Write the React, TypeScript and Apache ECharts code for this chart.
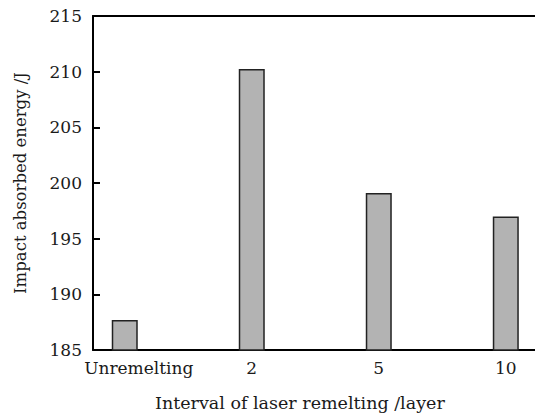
import React, { useEffect, useRef } from "react";
import * as echarts from "echarts";

// Impact absorbed energy for each laser remelting interval
const categories = ["Unremelting", "2", "5", "10"];
const energy = [187.7, 210.25, 199.1, 197.0];
const yTicks = { min: 185, max: 215, interval: 5 };

const FONT = "DejaVu Serif";
const INK = "#1a1a1a";

export default function App() {
  const ref = useRef<HTMLDivElement>(null);

  useEffect(() => {
    if (!ref.current) return;
    const chart = echarts.init(ref.current, undefined, { renderer: "svg" });
    chart.setOption({
      animation: false,
      backgroundColor: "#ffffff",
      grid: {
        left: 93,
        top: 16,
        right: 0,
        height: 334,
      },
      xAxis: [
        {
          type: "value",
          min: -0.25,
          max: 3.23,
          interval: 0.25,
          splitLine: { show: false },
          axisTick: { show: false },
          axisLine: { show: true, onZero: false, lineStyle: { color: "#000", width: 2 } },
          axisLabel: {
            margin: 9,
            fontFamily: FONT,
            fontSize: 17,
            color: INK,
            showMinLabel: true,
            showMaxLabel: false,
            formatter: (v: number) => {
              if (Math.abs(v - Math.round(v)) > 1e-6) return "";
              const i = Math.round(v);
              if (i < 0 || i >= categories.length) return "";
              return i === 0 ? `{u|${categories[i]}}` : categories[i];
            },
            rich: {
              u: {
                fontFamily: FONT,
                fontSize: 17,
                color: INK,
                padding: [0, 0, 0, 28],
              },
            },
          },
        },
        {
          // top frame line
          type: "value",
          position: "top",
          min: -0.25,
          max: 3.23,
          interval: 0.25,
          splitLine: { show: false },
          axisTick: { show: false },
          axisLabel: { show: false },
          axisLine: { show: true, onZero: false, lineStyle: { color: "#000", width: 2 } },
        },
      ],
      yAxis: {
        type: "value",
        min: yTicks.min,
        max: yTicks.max,
        interval: yTicks.interval,
        name: "Impact absorbed energy /J",
        nameLocation: "middle",
        nameGap: 64,
        nameTextStyle: { fontFamily: FONT, fontSize: 16.5, color: INK },
        splitLine: { show: false },
        axisLine: { show: true, onZero: false, lineStyle: { color: "#000", width: 2 } },
        axisTick: {
          show: true,
          inside: true,
          length: 7,
          lineStyle: { color: "#000", width: 2 },
        },
        axisLabel: {
          margin: 11,
          fontFamily: FONT,
          fontSize: 17,
          color: INK,
        },
      },
      series: [
        {
          type: "bar",
          xAxisIndex: 0,
          barWidth: 26,
          data: energy.map((v, i) => [i, v]),
          itemStyle: {
            color: "#b3b3b3",
            borderColor: "#222",
            borderWidth: 1.5,
          },
        },
      ],
      graphic: [
        {
          type: "text",
          left: 155,
          top: 394,
          style: {
            text: "Interval of laser remelting /layer",
            fontFamily: FONT,
            fontSize: 17.5,
            fill: INK,
          },
        },
      ],
    });
    return () => chart.dispose();
  }, []);

  return (
    <div
      ref={ref}
      style={{ position: "fixed", left: 0, top: 0, width: 535, height: 414 }}
    />
  );
}
